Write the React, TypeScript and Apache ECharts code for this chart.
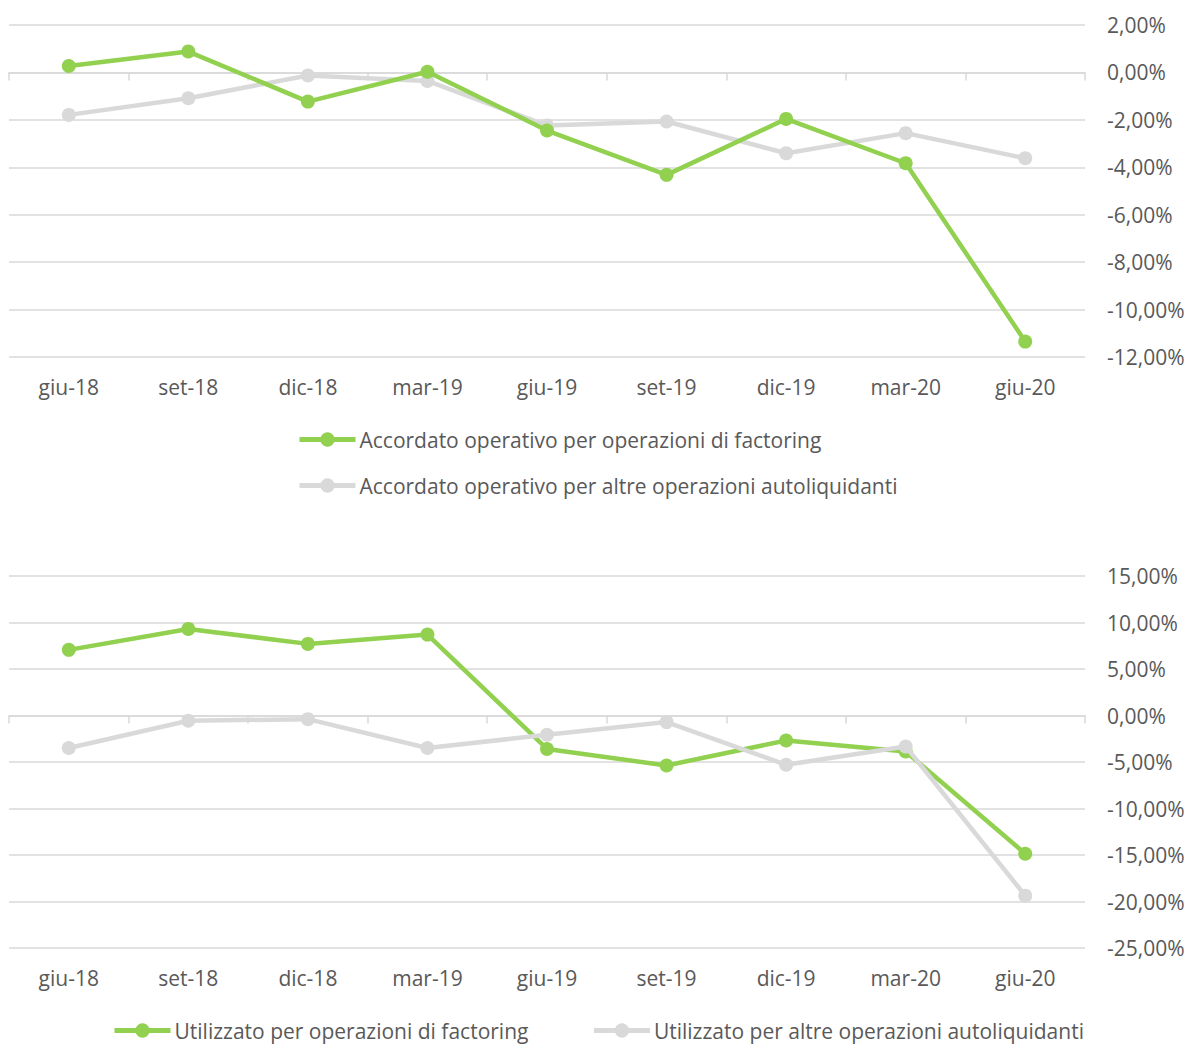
import React, { useEffect, useRef } from "react";
import * as echarts from "echarts";

const categories = ["giu-18", "set-18", "dic-18", "mar-19", "giu-19", "set-19", "dic-19", "mar-20", "giu-20"];

const topFactoringName = "Accordato operativo per operazioni di factoring";
const topOtherName = "Accordato operativo per altre operazioni autoliquidanti";
const bottomFactoringName = "Utilizzato per operazioni di factoring";
const bottomOtherName = "Utilizzato per altre operazioni autoliquidanti";

const topFactoring = [0.27, 0.88, -1.23, 0.03, -2.45, -4.32, -1.96, -3.83, -11.35];
const topOther = [-1.79, -1.09, -0.13, -0.36, -2.24, -2.07, -3.41, -2.56, -3.62];
const bottomFactoring = [7.06, 9.31, 7.7, 8.7, -3.6, -5.37, -2.69, -3.87, -14.86];
const bottomOther = [-3.5, -0.57, -0.39, -3.5, -2.07, -0.71, -5.3, -3.33, -19.37];

const topTicks = { min: -12, max: 2, interval: 2 };
const bottomTicks = { min: -25, max: 15, interval: 5 };

const GREEN = "#92D050";
const GRAY = "#D9D9D9";
const TEXT = "#595959";
const FONT = "Open Sans";
const FS = 21;

const fmt = (v: number) => v.toFixed(2).replace(".", ",") + "%";

export default function App() {
  const ref = useRef<HTMLDivElement>(null);
  useEffect(() => {
    document.body.style.margin = "0";
    const chart = echarts.init(ref.current!, null, { renderer: "svg" });
    const labelAxis = (gridIndex: number) => ({
      type: "category",
      gridIndex,
      data: categories,
      position: "bottom",
      axisLine: { show: false, onZero: false },
      axisTick: { show: false },
      axisLabel: { color: TEXT, fontFamily: FONT, fontSize: FS, margin: 19 },
      splitLine: { show: false },
    });
    const zeroAxis = (gridIndex: number) => ({
      type: "category",
      gridIndex,
      data: categories,
      position: "bottom",
      axisLine: { show: true, onZero: true, lineStyle: { color: GRAY, width: 1.5 } },
      axisTick: { show: true, length: 8, lineStyle: { color: GRAY, width: 1.5 } },
      axisLabel: { show: false },
      splitLine: { show: false },
    });
    const yAxis = (gridIndex: number, t: { min: number; max: number; interval: number }) => ({
      type: "value",
      gridIndex,
      position: "right",
      min: t.min,
      max: t.max,
      interval: t.interval,
      axisLine: { show: false },
      axisTick: { show: false },
      axisLabel: { color: TEXT, fontFamily: FONT, fontSize: FS, margin: 22, formatter: fmt },
      splitLine: { lineStyle: { color: GRAY, width: 1.5 } },
    });
    const line = (name: string, data: number[], color: string, xi: number, yi: number, z: number) => ({
      name,
      type: "line",
      data,
      xAxisIndex: xi,
      yAxisIndex: yi,
      symbol: "circle",
      symbolSize: 14,
      z,
      lineStyle: { color, width: 4.5 },
      itemStyle: { color },
    });
    const legendText = { color: TEXT, fontFamily: FONT, fontSize: FS, padding: [0, 0, 0, -1] };
    chart.setOption({
      animation: false,
      backgroundColor: "#ffffff",
      grid: [
        { left: 9, right: 107, top: 25, height: 332 },
        { left: 9, right: 107, top: 576, height: 372 },
      ],
      xAxis: [labelAxis(0), zeroAxis(0), labelAxis(1), zeroAxis(1)],
      yAxis: [yAxis(0, topTicks), yAxis(1, bottomTicks)],
      legend: [
        {
          data: [topFactoringName, topOtherName],
          orient: "vertical",
          left: 297,
          top: 429,
          padding: 0,
          itemGap: 25,
          itemWidth: 56,
          itemHeight: 18,
          lineStyle: { width: 5 },
          textStyle: legendText,
        },
        {
          data: [bottomFactoringName, bottomOtherName],
          orient: "horizontal",
          left: 112,
          top: 1020,
          padding: 0,
          itemGap: 63,
          itemWidth: 56,
          itemHeight: 18,
          lineStyle: { width: 5 },
          textStyle: legendText,
        },
      ],
      series: [
        line(topFactoringName, topFactoring, GREEN, 0, 0, 3),
        line(topOtherName, topOther, GRAY, 0, 0, 2),
        line(bottomFactoringName, bottomFactoring, GREEN, 2, 1, 2),
        line(bottomOtherName, bottomOther, GRAY, 2, 1, 3),
      ],
    });
    return () => chart.dispose();
  }, []);
  return <div ref={ref} style={{ width: 1192, height: 1045 }} />;
}
